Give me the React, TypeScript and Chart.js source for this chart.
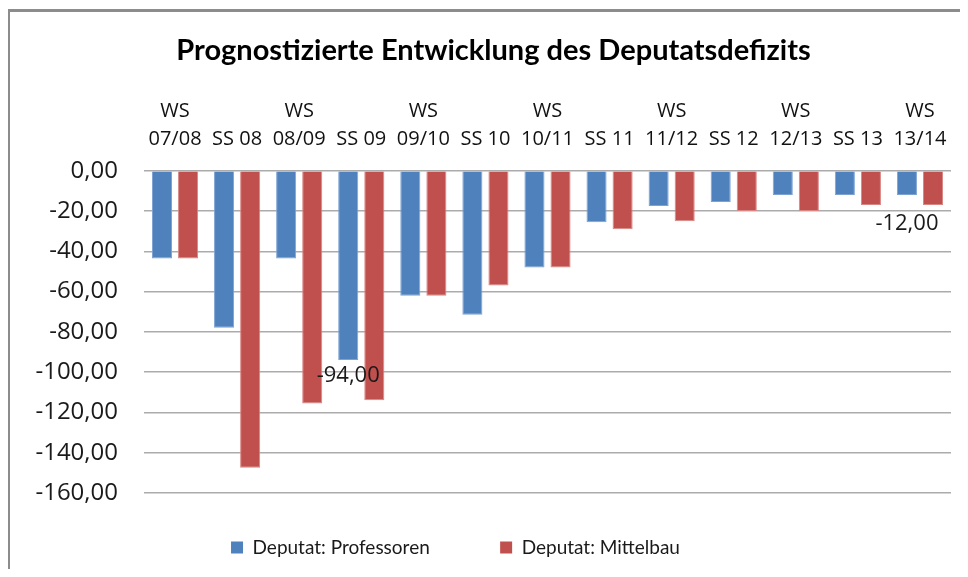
import { useEffect, useRef } from 'react';
import { Chart, registerables } from 'chart.js';

Chart.register(...registerables);

const titleText = 'Prognostizierte Entwicklung des Deputatsdefizits';
const categories: (string | string[])[] = [
  ['WS', '07/08'], 'SS 08', ['WS', '08/09'], 'SS 09', ['WS', '09/10'], 'SS 10',
  ['WS', '10/11'], 'SS 11', ['WS', '11/12'], 'SS 12', ['WS', '12/13'], 'SS 13', ['WS', '13/14'],
];
const professoren = [-43.5, -78, -43.5, -94, -62, -71.5, -48, -25.5, -17.5, -15.5, -12, -12, -12];
const mittelbau = [-43.5, -147.5, -115.5, -114, -62, -57, -48, -29, -25, -20, -20, -17, -17];
const seriesNames = ['Deputat: Professoren', 'Deputat: Mittelbau'];
const labelledIndices = [3, 12];
const yMin = -160;
const yMax = 0;
const yStep = 20;

const fmt = (v: number) => v.toFixed(2).replace('.', ',');

const dataLabelPlugin = {
  id: 'dataLabels',
  afterDatasetsDraw(chart: any) {
    const meta = chart.getDatasetMeta(0);
    const ctx = chart.ctx;
    ctx.save();
    ctx.font = '22px "Open Sans"';
    ctx.fillStyle = '#1a1a1a';
    ctx.textAlign = 'center';
    ctx.textBaseline = 'middle';
    const offsets: Record<number, number> = { 3: 16, 12: 29 };
    labelledIndices.forEach((i) => {
      const el = meta.data[i];
      const v = professoren[i];
      ctx.fillText(fmt(v), el.x, el.y + (offsets[i] ?? 16));
    });
    ctx.restore();
  },
};

const GAP = '\u2003\u2003\u2003\u2003\u2009';

export default function App() {
  const ref = useRef<HTMLCanvasElement>(null);
  useEffect(() => {
    if (!ref.current) return;
    const chart = new Chart(ref.current, {
      type: 'bar',
      data: {
        labels: categories,
        datasets: [
          {
            label: seriesNames[0],
            data: professoren,
            backgroundColor: '#4F81BD',
            borderColor: '#7da2d2',
            borderWidth: 1,
          },
          {
            label: seriesNames[1],
            data: mittelbau,
            backgroundColor: '#C0504D',
            borderColor: '#d88583',
            borderWidth: 1,
          },
        ],
      },
      plugins: [dataLabelPlugin],
      options: {
        responsive: false,
        animation: false,
        layout: { padding: { left: 36, right: 17, top: 0, bottom: 10 } },
        datasets: { bar: { barPercentage: 0.77, categoryPercentage: 0.84 } },
        plugins: {
          title: {
            display: true,
            text: titleText,
            color: '#000',
            font: { family: 'Lato', size: 29, weight: 'bold', lineHeight: 1.2 },
            padding: { top: 33, bottom: 11 },
          },
          legend: {
            position: 'bottom',
            labels: {
              color: '#1a1a1a',
              font: { family: 'Lato', size: 19 },
              boxWidth: 12,
              boxHeight: 12,
              padding: 11,
              generateLabels: (chart: any) => {
                const items = Chart.defaults.plugins.legend.labels.generateLabels(chart);
                items.forEach((it: any, i: number) => {
                  it.lineWidth = 0;
                  it.text = it.text + GAP + (i === items.length - 1 ? '\u2003\u2009' : '');
                });
                return items;
              },
            },
          },
          tooltip: { enabled: false },
        },
        scales: {
          x: {
            position: 'top',
            grid: { display: false },
            border: { display: false },
            ticks: {
              color: '#111',
              font: { family: 'Open Sans', size: 20, lineHeight: 1.4 },
              padding: 10,
              maxRotation: 0,
              autoSkip: false,
            },
            afterFit: (s: any) => { s.height = 92; },
          },
          spacer: {
            type: 'linear',
            position: 'bottom',
            display: true,
            ticks: { display: false },
            grid: { display: false },
            border: { display: false },
            afterFit: (s: any) => { s.height = 34; },
          },
          y: {
            min: yMin,
            max: yMax,
            ticks: {
              stepSize: yStep,
              color: '#1a1a1a',
              font: { family: 'Open Sans', size: 24 },
              padding: 26,
              callback: (v: any) => fmt(Number(v)),
            },
            grid: { color: '#ababab', lineWidth: 1.5, drawTicks: false },
            border: { display: false },
            afterFit: (s: any) => { s.width = 108; },
          },
        },
      },
    });
    return () => chart.destroy();
  }, []);

  return (
    <div style={{ position: 'relative', width: 968, height: 577, margin: -8, overflow: 'hidden', background: '#fff' }}>
      <canvas ref={ref} width={968} height={577} style={{ position: 'absolute', left: 0, top: 0 }} />
      <div style={{ position: 'absolute', left: 7, top: 9, width: 1100, height: 700, border: '3px solid #8c8c8c', pointerEvents: 'none' }} />
    </div>
  );
}
